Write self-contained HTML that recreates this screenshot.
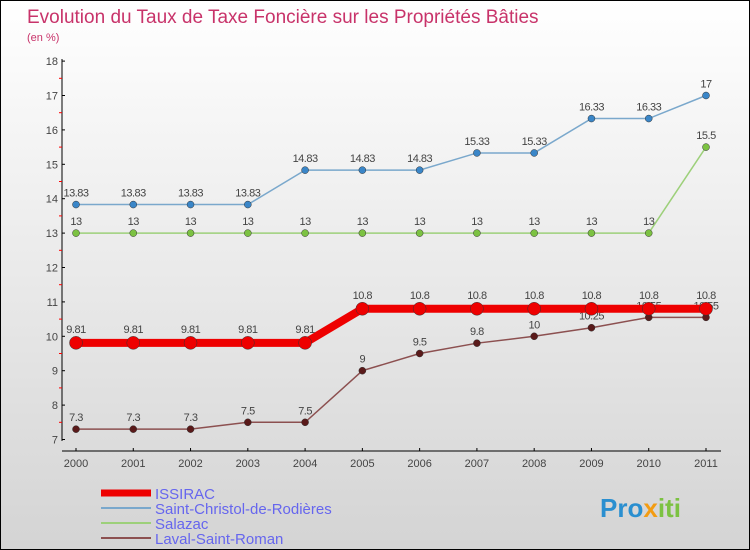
<!DOCTYPE html>
<html><head><meta charset="utf-8"><style>
body{margin:0}
#c{width:748px;height:548px;border:1px solid #000;background:linear-gradient(#fff,#d4d4d4);position:relative;font-family:"Liberation Sans",sans-serif}
</style></head><body>
<div id="c">
<svg id="s" width="748" height="548" style="position:absolute;left:0;top:0">
<text x="26" y="22" font-size="19" fill="#c8336a">Evolution du Taux de Taxe Foncière sur les Propriétés Bâties</text>
<text x="26" y="40" font-size="11" fill="#c8336a">(en %)</text>
<text x="599" y="516" font-size="26" font-weight="bold" fill="#2a8fd0">Pro<tspan fill="#f39c12">x</tspan><tspan fill="#7cc242">iti</tspan></text>
</svg>
</div>
<script>
const years=[2000,2001,2002,2003,2004,2005,2006,2007,2008,2009,2010,2011];
const issirac=[9.81,9.81,9.81,9.81,9.81,10.8,10.8,10.8,10.8,10.8,10.8,10.8];
const stChristol=[13.83,13.83,13.83,13.83,14.83,14.83,14.83,15.33,15.33,16.33,16.33,17];
const salazac=[13,13,13,13,13,13,13,13,13,13,13,15.5];
const laval=[7.3,7.3,7.3,7.5,7.5,9,9.5,9.8,10,10.25,10.55,10.55];
const yTicks=[7,8,9,10,11,12,13,14,15,16,17,18];
const names=['ISSIRAC','Saint-Christol-de-Rodières','Salazac','Laval-Saint-Roman'];
const ns='http://www.w3.org/2000/svg',s=document.getElementById('s');
const X=i=>75+i*(630/11), Y=v=>438.5-(v-7)*34.4;
function el(t,a,txt){const e=document.createElementNS(ns,t);for(const k in a)e.setAttribute(k,a[k]);if(txt!==undefined)e.textContent=txt;s.appendChild(e);return e;}
let e;
e=el('line',{x1:61,y1:58,x2:61,y2:440,stroke:'#000','stroke-width':1});

e=el('line',{x1:61,y1:450,x2:720,y2:450,stroke:'#000','stroke-width':1});

yTicks.forEach(v=>{el('line',{x1:61,y1:Y(v),x2:64,y2:Y(v),stroke:'#000'});
 e=el('text',{x:57,y:Y(v)+4,'font-size':11,fill:'#444','text-anchor':'end'},v);
 
 if(v<18)el('line',{x1:58,y1:Y(v+0.5),x2:61,y2:Y(v+0.5),stroke:'red'});});
years.forEach((y,i)=>{el('line',{x1:X(i),y1:447,x2:X(i),y2:450,stroke:'#000'});
 e=el('text',{x:X(i),y:466,'font-size':11,fill:'#444','text-anchor':'middle'},y);
 });
function series(d,color,w,r,dot,name,fmt){
 e=el('polyline',{points:d.map((v,i)=>X(i)+','+Y(v)).join(' '),fill:'none',stroke:color,'stroke-width':w});
 
 d.forEach((v,i)=>{e=el('circle',{cx:X(i),cy:Y(v),r:r,fill:dot,stroke:'#333','stroke-width':0.5});
  
  e=el('text',{x:X(i),y:Y(v)-(w>4?10:8),'font-size':11,fill:'#444','text-anchor':'middle','letter-spacing':'-0.5'},String(v));
  });
}
series(stChristol,'#7aa8cc',1.5,3.5,'#3a86c8','saint-christol');
series(salazac,'#9dd07a',1.5,3.5,'#7cc242','salazac');
series(laval,'#8c5050',1.5,3.5,'#5a1a1a','laval');
series(issirac,'#ee0000',8,6.5,'#ee0000','issirac');
const lc=['#ee0000','#7aa8cc','#9dd07a','#8c5050'],lw=[7,2,2,2];
names.forEach((n,i)=>{const y=492+i*15;
 e=el('line',{x1:100,y1:y,x2:150,y2:y,stroke:lc[i],'stroke-width':lw[i]});
 
 e=el('text',{x:154,y:y+6,'font-size':15,fill:'#6666ee'},n);
 });
</script>
</body></html>
